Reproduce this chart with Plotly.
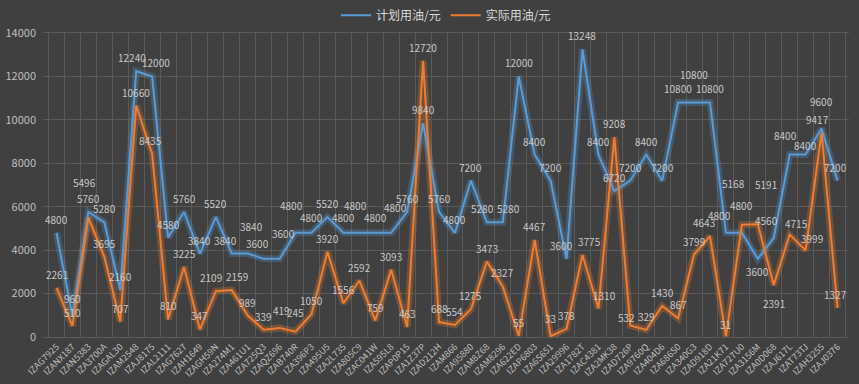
import plotly.graph_objects as go

categories = ["IZAG7925","IZANX187","IZAN5383","IZA3700A","IZAGAL30","IZAM2548","IZAJ8175","IZAL2111","IZAG7627","IZAH1649",
              "IZAGH59N","IZA274M1","IZA461U1","IZA725Q3","IZAQZ696","IZAB740R","IZA396P3","IZA495U5","IZA2L735","IZA805C9",
              "IZAC041W","IZA595L8","IZAP0P15","IZA1Z37P","IZAD212H","IZAM866","IZA95880","IZAM8Z68","IZAM8296","IZA622ED",
              "IZAP6803","IZA6S651","IZA29996","IZA1782T","IZAC4381","IZA2MK38","IZAD726P","IZA9760Q","IZA404D6","IZA686S0",
              "IZA340G3","IZAD918D","IZA21K71","IZA727U0","IZA3156M","IZA0D068","IZAJ617L","IZAT73TJ","IZAH3255","IZAJ0376"]

planned = [4800,960,5760,5280,2160,12240,12000,4580,5760,3840,
           5520,3840,3840,3600,3600,4800,4800,5520,4800,4800,
           4800,4800,5760,9840,5760,4800,7200,5280,5280,12000,
           8400,7200,3600,13248,8400,6720,7200,8400,7200,10800,
           10800,10800,4800,4800,3600,4560,8400,8400,9600,7200]

actual = [2261,510,5496,3695,707,10660,8435,810,3225,347,
          2109,2159,989,339,419,245,1050,3920,1556,2592,
          759,3093,463,12720,688,554,1275,3473,2327,55,
          4467,33,378,3775,1310,9208,532,329,1430,867,
          3799,4643,31,5168,5191,2391,4715,3999,9417,1327]

series_names = ["计划用油/元", "实际用油/元"]
blue = "#5B9BD5"
orange = "#ED7D31"
font = "Noto Sans CJK SC, Noto Sans, sans-serif"
label_color = "#C8C8C8"

fig = go.Figure()
# glow layers
for vals, col in [(planned, "rgba(91,155,213,0.28)"), (actual, "rgba(237,125,49,0.28)")]:
    fig.add_trace(go.Scatter(x=categories, y=vals, mode="lines",
                             line=dict(color=col, width=7),
                             showlegend=False, hoverinfo="skip"))

fig.add_trace(go.Scatter(x=categories, y=planned, mode="lines", name=series_names[0],
                         line=dict(color=blue, width=2)))
fig.add_trace(go.Scatter(x=categories, y=actual, mode="lines", name=series_names[1],
                         line=dict(color=orange, width=2)))

# data labels, placed above each point (small shifts where the reference staggers them)
blue_shift = {1: (0, 4), 5: (-4, 0), 6: (4, 0), 11: (-6, 0), 12: (4, 14), 13: (-6, 2),
              14: (4, 12), 15: (-4, 14), 16: (0, 2), 18: (0, 2), 19: (-4, 14), 20: (0, 2), 21: (4, 12),
              27: (-4, 0), 28: (6, 0), 32: (-5, 0), 40: (0, 14), 42: (-6, 4), 43: (0, 14),
              44: (0, -26), 45: (-7, 4), 46: (-4, 6), 47: (0, -4), 48: (0, 14), 49: (-2, 0)}
orange_shift = {1: (0, 0), 2: (-4, 22), 6: (-2, 0), 10: (-5, 0), 11: (5, 0), 14: (2, 4), 15: (0, 6), 31: (0, 4),
                36: (-4, -6), 41: (-6, 0), 42: (0, -2), 43: (-8, 28), 44: (8, 26),
                45: (0, -32), 46: (7, -2), 47: (6, -2), 48: (-4, 0), 34: (6, 0), 33: (7, 0), 49: (-2, 0)}

annotations = []
for vals, shifts in [(planned, blue_shift), (actual, orange_shift)]:
    for i, (c, v) in enumerate(zip(categories, vals)):
        dx, dy = shifts.get(i, (0, 0))
        annotations.append(dict(x=c, y=v, text=str(v), showarrow=False, yanchor="bottom",
                                xshift=dx, yshift=4 + dy,
                                font=dict(size=10, color=label_color, family=font)))

fig.update_layout(
    width=859, height=384,
    paper_bgcolor="#404040", plot_bgcolor="#404040",
    margin=dict(l=43, r=10, t=33, b=47, autoexpand=False),
    font=dict(family=font, color="#BFBFBF"),
    showlegend=True,
    legend=dict(orientation="h", x=0.5, xanchor="center", y=0.96, yanchor="middle", yref="container",
                font=dict(size=12, color="#D9D9D9"), bgcolor="rgba(0,0,0,0)"),
    annotations=annotations,
)
fig.update_xaxes(type="category", tickson="boundaries", showgrid=True, gridcolor="#5A5A5A",
                 tickangle=-45, tickfont=dict(size=9, color="#BFBFBF"),
                 showline=True, linecolor="#5A5A5A", mirror=True, ticks="", automargin=False)
fig.update_yaxes(range=[0, 14000], dtick=2000, tickformat="d", showgrid=True, gridcolor="#5A5A5A",
                 tickfont=dict(size=11, color="#BFBFBF"), zeroline=False,
                 showline=False, ticks="", ticklabelstandoff=6, automargin=False)

fig.write_html("out.html", config={"displayModeBar": False},
               post_script="document.body.style.margin='0';document.body.style.background='#404040';")
